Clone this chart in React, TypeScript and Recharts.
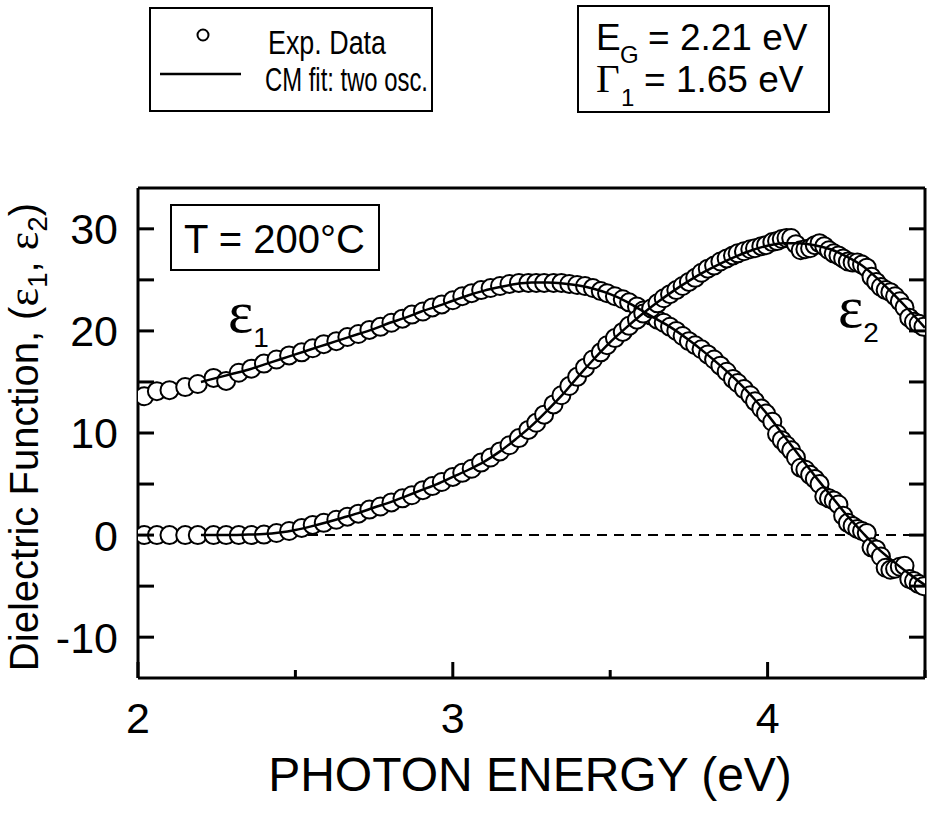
import React from 'react';
import {
  ComposedChart, Scatter, XAxis, YAxis, ReferenceLine,
} from 'recharts';

// measured photon energies (eV), same grid for both components
const ENERGY = [
  2.02, 2.06, 2.10, 2.15, 2.19, 2.24, 2.28, 2.32, 2.36, 2.40,
  2.44, 2.48, 2.52, 2.555, 2.59, 2.63, 2.665, 2.70, 2.735, 2.77,
  2.805, 2.84, 2.87, 2.905, 2.935, 2.965, 3.0, 3.03, 3.06, 3.09,
  3.12, 3.15, 3.18, 3.21, 3.24, 3.265, 3.29, 3.32, 3.345, 3.37,
  3.395, 3.42, 3.445, 3.47, 3.49, 3.515, 3.54, 3.56, 3.585, 3.605,
  3.63, 3.65, 3.67, 3.69, 3.71, 3.73, 3.75, 3.77, 3.79, 3.81,
  3.83, 3.85, 3.87, 3.89, 3.905, 3.925, 3.945, 3.96, 3.98, 3.995,
  4.015, 4.03, 4.045, 4.06, 4.075, 4.09, 4.105, 4.12, 4.135, 4.15,
  4.165, 4.18, 4.195, 4.21, 4.225, 4.24, 4.255, 4.27, 4.285, 4.30,
  4.315, 4.33, 4.345, 4.36, 4.375, 4.39, 4.405, 4.42, 4.435, 4.45,
  4.465, 4.48, 4.495,
];

const EPS1 = [
  13.6, 14.1, 14.2, 14.5, 14.8, 15.4, 15.1, 15.9, 16.3, 16.8,
  17.2, 17.6, 17.9, 18.3, 18.7, 19.0, 19.4, 19.7, 20.1, 20.4,
  20.8, 21.2, 21.6, 21.9, 22.3, 22.6, 23.0, 23.4, 23.7, 24.0,
  24.2, 24.4, 24.6, 24.7, 24.7, 24.7, 24.7, 24.7, 24.7, 24.6,
  24.5, 24.4, 24.2, 23.9, 23.7, 23.4, 23.1, 22.8, 22.4, 22.0,
  21.5, 21.1, 20.8, 20.4, 20.0, 19.5, 19.0, 18.6, 18.2, 17.7,
  17.2, 16.6, 16.0, 15.3, 14.9, 14.3, 13.7, 13.1, 12.4, 11.9,
  11.1, 9.9, 9.3, 8.8, 8.3, 7.6, 6.6, 6.4, 5.9, 5.5,
  5.0, 3.8, 3.6, 3.4, 3.0, 1.9, 1.2, 0.9, 0.6, 0.4,
  0.2, -1.2, -1.4, -2.1, -3.2, -3.4, -3.3, -3.1, -3.0, -4.3,
  -4.5, -4.8, -5.0,
];

const EPS2 = [
  0, 0, 0, 0, 0, 0, 0, 0, 0, 0.05,
  0.2, 0.4, 0.7, 1.0, 1.2, 1.5, 1.8, 2.1, 2.5, 2.8,
  3.2, 3.6, 3.9, 4.4, 4.8, 5.2, 5.7, 6.1, 6.5, 7.1,
  7.6, 8.2, 8.8, 9.5, 10.3, 11.0, 11.8, 12.8, 13.7, 14.6,
  15.5, 16.4, 17.2, 17.9, 18.6, 19.3, 19.9, 20.5, 21.1, 21.7,
  22.2, 22.7, 23.2, 23.6, 24.0, 24.4, 24.8, 25.2, 25.7, 26.1,
  26.4, 26.8, 27.1, 27.4, 27.6, 27.8, 28.0, 28.1, 28.3, 28.4,
  28.7, 28.8, 29.0, 29.1, 29.1, 28.5, 27.9, 28.0, 28.1, 28.4,
  28.6, 28.3, 27.9, 27.6, 27.4, 27.1, 26.8, 26.7, 26.7, 26.5,
  26.2, 25.3, 24.8, 24.3, 24.0, 23.8, 23.4, 22.9, 22.3, 21.3,
  20.9, 20.7, 20.4,
];

// CM fit curves (two oscillators)
const FIT_E = [
  2.2, 2.25, 2.3, 2.35, 2.4, 2.45, 2.5, 2.55, 2.6, 2.65,
  2.7, 2.75, 2.8, 2.85, 2.9, 2.95, 3.0, 3.05, 3.1, 3.15,
  3.2, 3.25, 3.3, 3.35, 3.4, 3.45, 3.5, 3.55, 3.6, 3.65,
  3.7, 3.75, 3.8, 3.85, 3.9, 3.95, 4.0, 4.05, 4.1, 4.15,
  4.2, 4.25, 4.3, 4.35, 4.4, 4.45, 4.5,
];
const FIT1 = [
  15.0, 15.4, 15.8, 16.2, 16.7, 17.2, 17.7, 18.2, 18.7, 19.2,
  19.7, 20.2, 20.8, 21.3, 21.9, 22.4, 22.95, 23.5, 23.95, 24.3,
  24.6, 24.75, 24.75, 24.65, 24.45, 24.1, 23.6, 22.9, 22.0, 21.1,
  20.2, 19.1, 17.9, 16.6, 15.2, 13.6, 11.8, 9.8, 7.8, 5.8,
  3.9, 2.0, 0.3, -1.3, -2.6, -3.8, -4.9,
];
const FIT2 = [
  0, 0, 0, 0.05, 0.1, 0.25, 0.5, 0.85, 1.25, 1.7,
  2.15, 2.7, 3.2, 3.8, 4.4, 5.0, 5.7, 6.4, 7.2, 8.2,
  9.4, 10.7, 12.2, 13.8, 15.6, 17.3, 18.9, 20.3, 21.6, 22.8,
  23.9, 24.9, 25.8, 26.6, 27.3, 27.9, 28.35, 28.6, 28.6, 28.4,
  28.0, 27.3, 26.4, 25.1, 23.6, 22.0, 20.3,
];

const X_TICKS = [2, 2.5, 3, 3.5, 4, 4.5];
const Y_TICKS = [-10, -5, 0, 5, 10, 15, 20, 25, 30];

const SANS = '"Liberation Sans", Arial, sans-serif';
const SERIF = '"Liberation Serif", "Times New Roman", serif';

const eps1Pts = ENERGY.map((x, i) => ({ x, y: EPS1[i] }));
const eps2Pts = ENERGY.map((x, i) => ({ x, y: EPS2[i] }));
const fit1Pts = FIT_E.map((x, i) => ({ x, y: FIT1[i] }));
const fit2Pts = FIT_E.map((x, i) => ({ x, y: FIT2[i] }));

const isMajorX = (v: number) => Number.isInteger(v);
const isMajorY = (v: number) => v % 10 === 0;

// ticks point inward on every side; labels only on bottom/left majors
function BottomTick(props: any) {
  const { x, y, payload } = props;
  const major = isMajorX(payload.value);
  return (
    <g>
      <line x1={x} x2={x} y1={y} y2={y - (major ? 16 : 8)} stroke="#000" strokeWidth={3} />
      {major && (
        <text x={x} y={y + 55} textAnchor="middle" fontSize={43} fontFamily={SANS} fill="#000">
          {payload.value}
        </text>
      )}
    </g>
  );
}

function TopTick(props: any) {
  const { x, y, payload } = props;
  const major = isMajorX(payload.value);
  return <line x1={x} x2={x} y1={y} y2={y + (major ? 16 : 8)} stroke="#000" strokeWidth={3} />;
}

function LeftTick(props: any) {
  const { x, y, payload } = props;
  return (
    <g>
      <line x1={x} x2={x + 16} y1={y} y2={y} stroke="#000" strokeWidth={3} />
      {isMajorY(payload.value) && (
        <text x={x - 20} y={y} dy="0.36em" textAnchor="end" fontSize={43} fontFamily={SANS} fill="#000">
          {payload.value}
        </text>
      )}
    </g>
  );
}

function RightTick(props: any) {
  const { x, y } = props;
  return <line x1={x} x2={x - 16} y1={y} y2={y} stroke="#000" strokeWidth={3} />;
}

const Dot = (p: any) => (
  <circle cx={p.cx} cy={p.cy} r={9} fill="#fff" stroke="#000" strokeWidth={2} />
);
const NoDot = () => <g />;

const frame = { stroke: '#000', strokeWidth: 3 };

export default function App() {
  return (
    <div style={{ position: 'absolute', left: 0, top: 0, width: 930, height: 815, background: '#fff' }}>
      <ComposedChart
        width={930}
        height={815}
        margin={{ top: 187, right: 4, bottom: 136, left: 137 }}
      >
        <XAxis
          xAxisId={0}
          dataKey="x"
          type="number"
          domain={[2, 4.5]}
          ticks={X_TICKS}
          interval={0}
          height={1}
          tickSize={0}
          tickMargin={0}
          tickLine={false}
          axisLine={frame}
          tick={BottomTick}
          allowDataOverflow
        />
        <XAxis
          xAxisId="top"
          orientation="top"
          type="number"
          domain={[2, 4.5]}
          ticks={X_TICKS}
          interval={0}
          height={1}
          tickSize={0}
          tickMargin={0}
          tickLine={false}
          axisLine={frame}
          tick={TopTick}
          allowDataOverflow
        />
        <YAxis
          yAxisId={0}
          dataKey="y"
          type="number"
          domain={[-14, 34]}
          ticks={Y_TICKS}
          interval={0}
          width={1}
          tickSize={0}
          tickMargin={0}
          tickLine={false}
          axisLine={frame}
          tick={LeftTick}
          allowDataOverflow
        />
        <YAxis
          yAxisId="right"
          orientation="right"
          type="number"
          domain={[-14, 34]}
          ticks={Y_TICKS}
          interval={0}
          width={1}
          tickSize={0}
          tickMargin={0}
          tickLine={false}
          axisLine={frame}
          tick={RightTick}
          allowDataOverflow
        />
        <ReferenceLine y={0} stroke="#000" strokeWidth={2} strokeDasharray="10 7" />
        <Scatter data={eps1Pts} shape={Dot} isAnimationActive={false} />
        <Scatter data={eps2Pts} shape={Dot} isAnimationActive={false} />
        <Scatter
          data={fit1Pts}
          shape={NoDot}
          line={{ stroke: '#000', strokeWidth: 2.5 }}
          lineJointType="monotoneX"
          isAnimationActive={false}
        />
        <Scatter
          data={fit2Pts}
          shape={NoDot}
          line={{ stroke: '#000', strokeWidth: 2.5 }}
          lineJointType="monotoneX"
          isAnimationActive={false}
        />
      </ComposedChart>

      <svg width={930} height={815} style={{ position: 'absolute', left: 0, top: 0, pointerEvents: 'none' }}>
        {/* legend box */}
        <rect x={150} y={8} width={282} height={103} fill="none" stroke="#000" strokeWidth={2} />
        <circle cx={203} cy={35} r={5.5} fill="#fff" stroke="#000" strokeWidth={2} />
        <line x1={160} x2={241} y1={74} y2={74} stroke="#000" strokeWidth={2.5} />
        <text x={268} y={54} fontSize={34} fontFamily={SANS} textLength={118} lengthAdjust="spacingAndGlyphs">Exp. Data</text>
        <text x={265} y={91} fontSize={34} fontFamily={SANS} textLength={163} lengthAdjust="spacingAndGlyphs">CM fit: two osc.</text>

        {/* parameter box */}
        <rect x={578} y={6} width={251} height={106} fill="none" stroke="#000" strokeWidth={2} />
        <text x={596} y={50} fontSize={37} fontFamily={SANS}>E</text>
        <text x={620} y={63} fontSize={24} fontFamily={SANS}>G</text>
        <text x={648} y={50} fontSize={37} fontFamily={SANS}>= 2.21 eV</text>
        <text x={596} y={92} fontSize={41} fontFamily={SERIF}>Γ</text>
        <text x={621} y={106} fontSize={24} fontFamily={SANS}>1</text>
        <text x={644} y={92} fontSize={37} fontFamily={SANS}>= 1.65 eV</text>

        {/* temperature box */}
        <rect x={171} y={205} width={208} height={65} fill="none" stroke="#000" strokeWidth={2} />
        <text x={184} y={253} fontSize={40} fontFamily={SANS}>T = 200°C</text>

        {/* curve labels */}
        <text x={228} y={332} fontSize={60} fontFamily={SERIF}>
          ε<tspan fontFamily={SANS} fontSize={28} dy={15}>1</tspan>
        </text>
        <text x={838} y={327} fontSize={60} fontFamily={SERIF}>
          ε<tspan fontFamily={SANS} fontSize={28} dy={15}>2</tspan>
        </text>

        {/* axis titles */}
        <text x={530} y={791} textAnchor="middle" fontSize={48} fontFamily={SANS}>PHOTON ENERGY (eV)</text>
        <text transform="translate(38, 437) rotate(-90)" textAnchor="middle" fontSize={40} fontFamily={SANS}>
          Dielectric Function, (<tspan fontFamily={SERIF} fontSize={44}>ε</tspan><tspan fontSize={28} dy={9}>1</tspan><tspan dy={-9}>, </tspan><tspan fontFamily={SERIF} fontSize={44}>ε</tspan><tspan fontSize={28} dy={9}>2</tspan><tspan dy={-9}>)</tspan>
        </text>
      </svg>
    </div>
  );
}
